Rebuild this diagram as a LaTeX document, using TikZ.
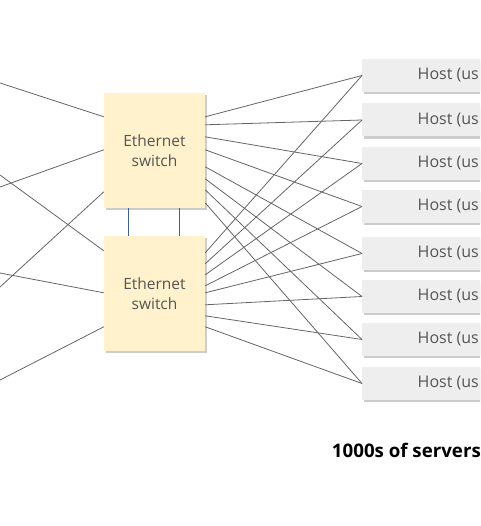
\documentclass[tikz,border=0pt]{standalone}
\usepackage{fontspec}
\setmainfont{Open Sans}
\definecolor{swfill}{HTML}{FFF2CC}
\definecolor{hostfill}{HTML}{EEEEEE}
\definecolor{linegray}{HTML}{656565}
\definecolor{txtgray}{HTML}{555555}
\definecolor{bluelink}{HTML}{3F5F95}
\tikzset{
  switchbox/.style={draw=none,fill=swfill,minimum width=101pt,minimum height=115pt,inner sep=0pt,align=center,font=\fontsize{15.5}{20}\selectfont,text=txtgray},
  hostbox/.style={draw=none,fill=hostfill,minimum width=160pt,minimum height=33pt,inner sep=0pt,anchor=west},
  shadowbox/.style={fill=black!20},
  wire/.style={draw=linegray,line width=0.8pt},
  bluewire/.style={draw=bluelink,line width=0.8pt},
}
\begin{document}
\begin{tikzpicture}[x=1pt,y=-1pt]
\useasboundingbox (0,0) rectangle (480,526);
\clip (0,0) rectangle (480,526);
% shadows
\fill[shadowbox] (105.5,95) rectangle (207,210);
\fill[shadowbox] (105.5,238) rectangle (207,353);
\foreach \t in {59,104,147,190,237,280,323,367}{
  \fill[shadowbox] (363.5,\t+2) rectangle (520,\t+35);
}
% switches
\node[switchbox] (sw1) at (154.5,150.5) {Ethernet\\switch};
\node[switchbox] (sw2) at (154.5,293.5) {Ethernet\\switch};
% hosts
\foreach \i/\c in {1/75.5,2/120,3/163.5,4/206.5,5/253.5,6/296.5,7/339.5,8/383.5}{
  \node[hostbox] (h\i) at (362,\c) {};
  \node[anchor=west,inner sep=0pt,font=\fontsize{16}{18}\selectfont,text=txtgray] (ht\i) at (417.5,\c) {Host (us};
}
% left free ends
\coordinate (l1) at (0,83);
\coordinate (l2) at (0,187);
\coordinate (l3) at (0,287);
\coordinate (l4) at (0,175);
\coordinate (l5) at (0,273);
\coordinate (l6) at (0,380);
\draw[wire] (l1) -- ([yshift=-24pt]sw1.north west);
\draw[wire] (l2) -- ([yshift=-57pt]sw1.north west);
\draw[wire] (l3) -- ([yshift=-99pt]sw1.north west);
\draw[wire] (l4) -- ([yshift=-15pt]sw2.north west);
\draw[wire] (l5) -- ([yshift=-57pt]sw2.north west);
\draw[wire] (l6) -- ([yshift=-91pt]sw2.north west);
% switch-to-switch links
\draw[bluewire] ([xshift=25pt]sw1.south west) -- ([xshift=25pt]sw2.north west);
\draw[bluewire] ([xshift=76pt]sw1.south west) -- ([xshift=76pt]sw2.north west);
% switch 1 to hosts
\foreach \i/\o in {1/24,2/32,3/44,4/57,5/74,6/86,7/97,8/110}{
  \draw[wire] ([yshift=-\o pt]sw1.north east) -- (h\i.west);
}
% switch 2 to hosts
\foreach \i/\o in {1/17,2/28,3/39,4/50,5/57,6/69,7/80,8/91}{
  \draw[wire] ([yshift=-\o pt]sw2.north east) -- (h\i.west);
}
\node[anchor=east,inner sep=0pt,font=\fontsize{18.7}{20}\selectfont\bfseries] (lbl) at (481,450) {1000s of servers};
\end{tikzpicture}
\end{document}
